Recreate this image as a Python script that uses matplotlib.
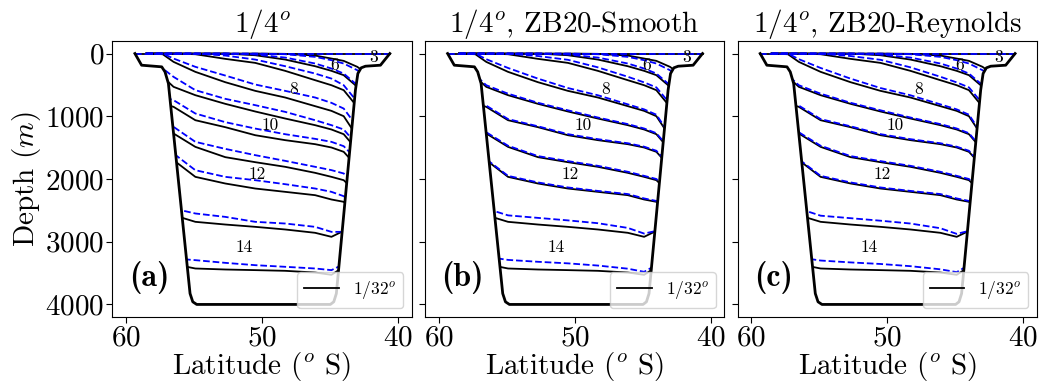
import numpy as np
import matplotlib
matplotlib.use("Agg")
import matplotlib.pyplot as plt
from matplotlib.patches import Polygon

plt.rcParams['font.family'] = 'serif'
plt.rcParams['font.serif'] = ['cmr10']
plt.rcParams['mathtext.fontset'] = 'cm'
plt.rcParams['axes.unicode_minus'] = False
plt.rcParams['axes.formatter.use_mathtext'] = True

# ---------------- data ----------------
titles = [r'$1/4^o$', r'$1/4^o$, ZB20-Smooth', r'$1/4^o$, ZB20-Reynolds']
panel_tags = ['(a)', '(b)', '(c)']

# bathymetry outline (latitude, depth in m)
bathy_lat = [59.34, 58.85, 57.37, 57.13, 56.88, 55.29, 55.09, 54.80,
             44.98, 44.73, 44.54, 43.14, 42.96, 42.72, 42.40, 41.30, 40.61]
bathy_depth = [0, 186, 212, 292, 478, 3826, 3958, 4000,
               4000, 3958, 3826, 584, 319, 228, 202, 186, 0]

# latitudes at which the interface depths were read
iface_lat = [58.5, 57.3, 56.5, 54.9, 52.7, 50.5, 48.3, 46.1, 44.9, 44.0, 43.0, 42.0]

# 1/32 degree reference interfaces (depth, m)
ref_32 = [
    [0, 0, 0, 0, 0, 0, 5, 32, 80, 117, 212, 372],
    [0, 0, 0, 0, 0, 27, 96, 202, 276, 345, 531, 850],
    [0, 0, 0, 11, 85, 149, 276, 425, 505, 584, 850, 1169],
    [0, 11, 133, 292, 457, 595, 701, 839, 914, 999, 1328, 1647],
    [319, 372, 531, 664, 802, 924, 1036, 1142, 1211, 1286, 1541, 1806],
    [744, 797, 850, 1063, 1174, 1302, 1381, 1445, 1498, 1567, 1806, 2019],
    [1169, 1222, 1275, 1488, 1652, 1732, 1806, 1902, 1966, 2019, 2231, 2444],
    [1620, 1647, 1700, 1966, 2072, 2152, 2205, 2258, 2327, 2364, 2550, 2763],
    [2524, 2550, 2577, 2683, 2726, 2763, 2805, 2858, 2922, 2827, 2736, 2657],
    [3321, 3337, 3358, 3427, 3443, 3453, 3464, 3491, 3528, 3400, 3294, 3188],
]

# 1/4 degree runs (depth, m)
run_a = [
    [0, 0, 0, 0, 0, 0, 11, 53, 106, 159, 266, 425],
    [0, 0, 0, 0, 0, 16, 64, 159, 239, 319, 505, 797],
    [0, 0, 0, 0, 32, 96, 202, 319, 399, 505, 770, 1063],
    [0, 0, 80, 212, 351, 494, 595, 701, 786, 877, 1169, 1488],
    [212, 239, 372, 584, 722, 823, 930, 1063, 1142, 1211, 1461, 1753],
    [664, 691, 744, 956, 1094, 1196, 1286, 1360, 1408, 1477, 1700, 1912],
    [1063, 1089, 1169, 1408, 1520, 1620, 1711, 1806, 1859, 1912, 2125, 2338],
    [1514, 1541, 1594, 1860, 1966, 2019, 2083, 2152, 2205, 2274, 2444, 2657],
    [2417, 2444, 2471, 2550, 2604, 2683, 2710, 2763, 2843, 2843, 2763, 2657],
    [3188, 3214, 3267, 3294, 3337, 3374, 3400, 3427, 3453, 3358, 3267, 3188],
]
run_b = [
    [0, 0, 0, 0, 0, 0, 11, 53, 106, 159, 266, 425],
    [0, 0, 0, 0, 0, 16, 64, 159, 239, 319, 505, 797],
    [0, 0, 0, 0, 40, 100, 220, 370, 460, 540, 800, 1120],
    [0, 0, 90, 230, 400, 550, 665, 810, 890, 975, 1300, 1620],
    [290, 345, 505, 640, 785, 905, 1020, 1125, 1195, 1270, 1525, 1790],
    [720, 775, 830, 1045, 1160, 1285, 1365, 1430, 1485, 1550, 1790, 2000],
    [1150, 1205, 1255, 1470, 1635, 1715, 1790, 1885, 1950, 2000, 2215, 2430],
    [1600, 1630, 1685, 1950, 2055, 2135, 2190, 2240, 2310, 2350, 2535, 2750],
    [2417, 2444, 2471, 2580, 2620, 2660, 2705, 2780, 2870, 2827, 2736, 2657],
    [3188, 3214, 3240, 3290, 3320, 3345, 3380, 3430, 3480, 3370, 3270, 3188],
]
run_c = [
    [0, 0, 0, 0, 0, 0, 11, 53, 106, 159, 266, 425],
    [0, 0, 0, 0, 0, 16, 64, 159, 239, 319, 505, 797],
    [0, 0, 0, 0, 40, 100, 220, 370, 460, 540, 800, 1120],
    [0, 0, 90, 230, 400, 550, 665, 810, 890, 975, 1300, 1620],
    [290, 345, 505, 640, 785, 905, 1020, 1125, 1195, 1270, 1525, 1790],
    [720, 775, 830, 1045, 1160, 1285, 1365, 1430, 1485, 1550, 1790, 2000],
    [1150, 1205, 1255, 1470, 1635, 1715, 1790, 1885, 1950, 2000, 2215, 2430],
    [1600, 1630, 1685, 1950, 2055, 2135, 2190, 2240, 2310, 2350, 2535, 2750],
    [2417, 2444, 2471, 2585, 2625, 2665, 2710, 2785, 2875, 2827, 2736, 2657],
    [3200, 3225, 3250, 3300, 3330, 3355, 3390, 3440, 3485, 3370, 3270, 3188],
]
runs = [run_a, run_b, run_c]

# layer labels: (text, latitude, depth)
layer_text = ['3', '6', '8', '10', '12', '14']
layer_lat = [41.8, 44.7, 47.7, 49.4, 50.35, 51.35]
layer_depth = [60, 195, 565, 1142, 1925, 3085]

xticks = [60, 50, 40]
yticks = [0, 1000, 2000, 3000, 4000]

# ---------------- figure ----------------
fig = plt.figure(figsize=(10.44, 3.86), dpi=100)
lefts = [0.1076, 0.4071, 0.7065]
axes = [fig.add_axes([l, 0.1788, 0.2868, 0.715]) for l in lefts]

for i, ax in enumerate(axes):
    poly = Polygon(np.column_stack([bathy_lat + [bathy_lat[-1], bathy_lat[0]],
                                    bathy_depth + [-40, -40]]),
                   closed=True, facecolor='none', edgecolor='none',
                   transform=ax.transData)
    ax.add_patch(poly)

    # surface interface
    ax.plot([bathy_lat[0], bathy_lat[-1]], [0, 0], color='k', lw=1.3, zorder=2)
    ax.plot([bathy_lat[0], bathy_lat[-1]], [0, 0], color='b', lw=1.3,
            ls='--', zorder=3)

    for k, d in enumerate(ref_32):
        ln, = ax.plot(iface_lat, d, color='k', lw=1.3, zorder=2,
                      label=r'$1/32^o$' if k == 0 else None)
        ln.set_clip_path(poly)
    for d in runs[i]:
        ln, = ax.plot(iface_lat, d, color='b', lw=1.3, ls='--', zorder=3)
        ln.set_clip_path(poly)

    ax.plot(bathy_lat, bathy_depth, color='k', lw=2.0, zorder=4,
            solid_joinstyle='round')

    for t, la, de in zip(layer_text, layer_lat, layer_depth):
        ax.text(la, de, t, ha='center', va='center', fontsize=12.5, zorder=5)

    ax.set_xlim(61, 39)
    ax.set_ylim(4200, -200)
    ax.set_xticks(xticks)
    ax.set_yticks(yticks)
    ax.tick_params(labelsize=21, length=4, pad=2)
    ax.set_title(titles[i], fontsize=21, pad=6)
    ax.set_xlabel(r'Latitude ($^o$ S)', fontsize=21, labelpad=-1)
    if i == 0:
        ax.set_ylabel(r'Depth ($m$)', fontsize=21, labelpad=1)
    else:
        ax.set_yticklabels([])
    ax.text(0.055, 0.085, panel_tags[i], transform=ax.transAxes,
            fontsize=23, family='cmb10', ha='left', va='bottom', zorder=6)
    ax.legend(loc='lower right', fontsize=12.5)

fig.savefig('out.png', dpi=100)
